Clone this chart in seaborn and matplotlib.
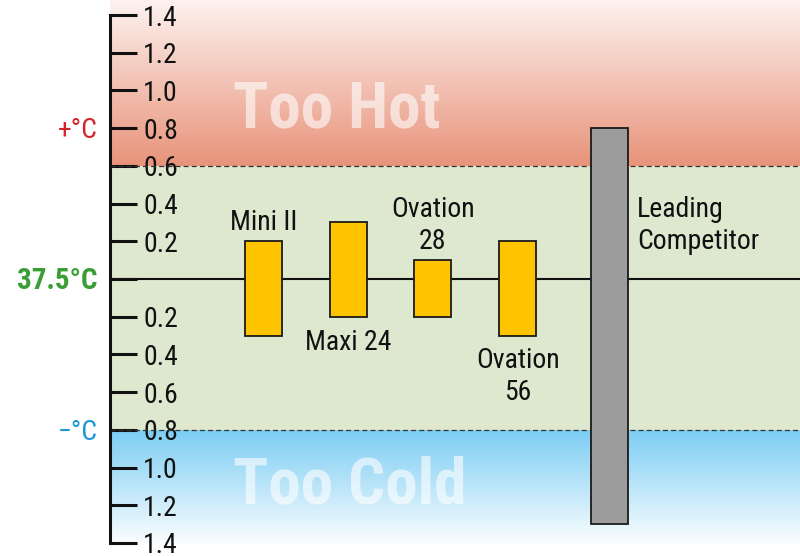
import numpy as np
import pandas as pd
import matplotlib
matplotlib.use("Agg")
import matplotlib.pyplot as plt
import seaborn as sns
from matplotlib.colors import to_rgb

# ---- data ----
products = ["Mini II", "Maxi 24", "Ovation\n28", "Ovation\n56", "Leading\nCompetitor"]
upper = [0.2, 0.3, 0.1, 0.2, 0.8]
lower = [-0.3, -0.2, -0.2, -0.3, -1.3]
tick_values = [1.4, 1.2, 1.0, 0.8, 0.6, 0.4, 0.2, 0.0,
               -0.2, -0.4, -0.6, -0.8, -1.0, -1.2, -1.4]
tick_labels = ["1.4", "1.2", "1.0", "0.8", "0.6", "0.4", "0.2", "",
               "0.2", "0.4", "0.6", "0.8", "1.0", "1.2", "1.4"]
hot_limit = 0.6
cold_limit = -0.8
side_labels = ["+°C", "37.5°C", "\u2212°C"]
side_values = [0.8, 0.0, -0.8]

# ---- layout / style ----
bar_pos = [1, 2, 3, 4, 5.085]
label_side = ["above", "below", "above", "below", "right"]
bar_colors = ["#ffc400", "#ffc400", "#ffc400", "#ffc400", "#9c9c9c"]
side_colors = ["#d4232a", "#3a9e37", "#1c98d6"]
side_weights = ["normal", "bold", "normal"]
XLIM = (-0.812, 7.334)
YLIM = (-1.469, 1.480)

sns.set_theme(style="white")
plt.rcParams['font.family'] = ["Roboto Condensed", "DejaVu Sans"]

fig = plt.figure(figsize=(8, 5.56), dpi=100)
fig.patch.set_facecolor("white")
ax = fig.add_axes([110 / 800, 0, 690 / 800, 1])
ax.set_facecolor("white")


def vgrad(y0, y1, c0, c1):
    t = np.linspace(0, 1, 256)[:, None, None]
    a = np.array(to_rgb(c0))[None, None, :]
    b = np.array(to_rgb(c1))[None, None, :]
    img = a + (b - a) * t
    ax.imshow(img, extent=[XLIM[0], XLIM[1], y0, y1], origin="lower",
              aspect="auto", zorder=0, interpolation="bilinear")


vgrad(hot_limit, YLIM[1], "#e8937a", "#fdf2ef")
vgrad(-1.42, cold_limit, "#ffffff", "#7ccdf3")
ax.axhspan(cold_limit, hot_limit, color="#dde8cf", lw=0, zorder=0)

ax.axhline(0, color="#111111", lw=1.5, zorder=1)
for lim in (hot_limit, cold_limit):
    ax.axhline(lim, color="#333333", lw=0.9, ls=(0, (4, 2.5)), zorder=1)

df = pd.DataFrame({"pos": bar_pos,
                   "span": np.subtract(upper, lower),
                   "product": products})
sns.barplot(data=df, x="pos", y="span", bottom=np.array(lower),
            native_scale=True, width=0.437, color=bar_colors[0],
            saturation=1, edgecolor="#1a1a1a", linewidth=1.3,
            errorbar=None, ax=ax, zorder=3)
for patch, c in zip(ax.containers[0], bar_colors):
    patch.set_facecolor(c)

# zone labels
ax.text(0.64, 0.806, "Too Hot", fontsize=47, fontweight="bold",
        color="white", alpha=0.6, ha="left", va="baseline", zorder=1)
ax.text(0.64, -1.188, "Too Cold", fontsize=47, fontweight="bold",
        color="white", alpha=0.6, ha="left", va="baseline", zorder=1)

# bar labels
for name, p, hi, lo, side in zip(products, bar_pos, upper, lower, label_side):
    if side == "above":
        ax.annotate(name, (p, hi), xytext=(0, 4), textcoords="offset points",
                    ha="center", va="bottom", fontsize=20, linespacing=1.2,
                    color="#111111", zorder=4)
    elif side == "below":
        ax.annotate(name, (p, lo), xytext=(0, -8.5), textcoords="offset points",
                    ha="center", va="top", fontsize=20, linespacing=1.2,
                    color="#111111", zorder=4)
    else:
        ax.annotate(name, (p, 0.284), xytext=(19.8, 0), textcoords="offset points",
                    ha="left", va="center", fontsize=20, linespacing=1.2,
                    color="#111111", zorder=4)

# side labels
for txt, v, c, w in zip(side_labels, side_values, side_colors, side_weights):
    ax.annotate(txt, (0, v), xycoords=("axes fraction", "data"),
                xytext=(-9, -7.2), textcoords="offset points",
                ha="right", va="baseline", fontsize=21 if w == "bold" else 20,
                fontweight=w, color=c, annotation_clip=False)

# axes styling
ax.set_xlim(*XLIM)
ax.set_ylim(*YLIM)
for s in ("top", "right", "bottom"):
    ax.spines[s].set_visible(False)
ax.spines["left"].set_bounds(-1.4, 1.4)
ax.spines["left"].set_linewidth(2.2)
ax.spines["left"].set_color("#111111")
ax.spines["left"].set_zorder(5)
ax.set_yticks(tick_values, tick_labels)
ax.tick_params(axis="y", direction="in", length=19.5, width=2.2, pad=-24,
               labelsize=20, colors="#111111", left=True)
plt.setp(ax.get_yticklabels(), ha="left")
ax.tick_params(axis="x", bottom=False, labelbottom=False)
ax.set_xlabel("")
ax.set_ylabel("")

fig.savefig("out.png", dpi=100)
